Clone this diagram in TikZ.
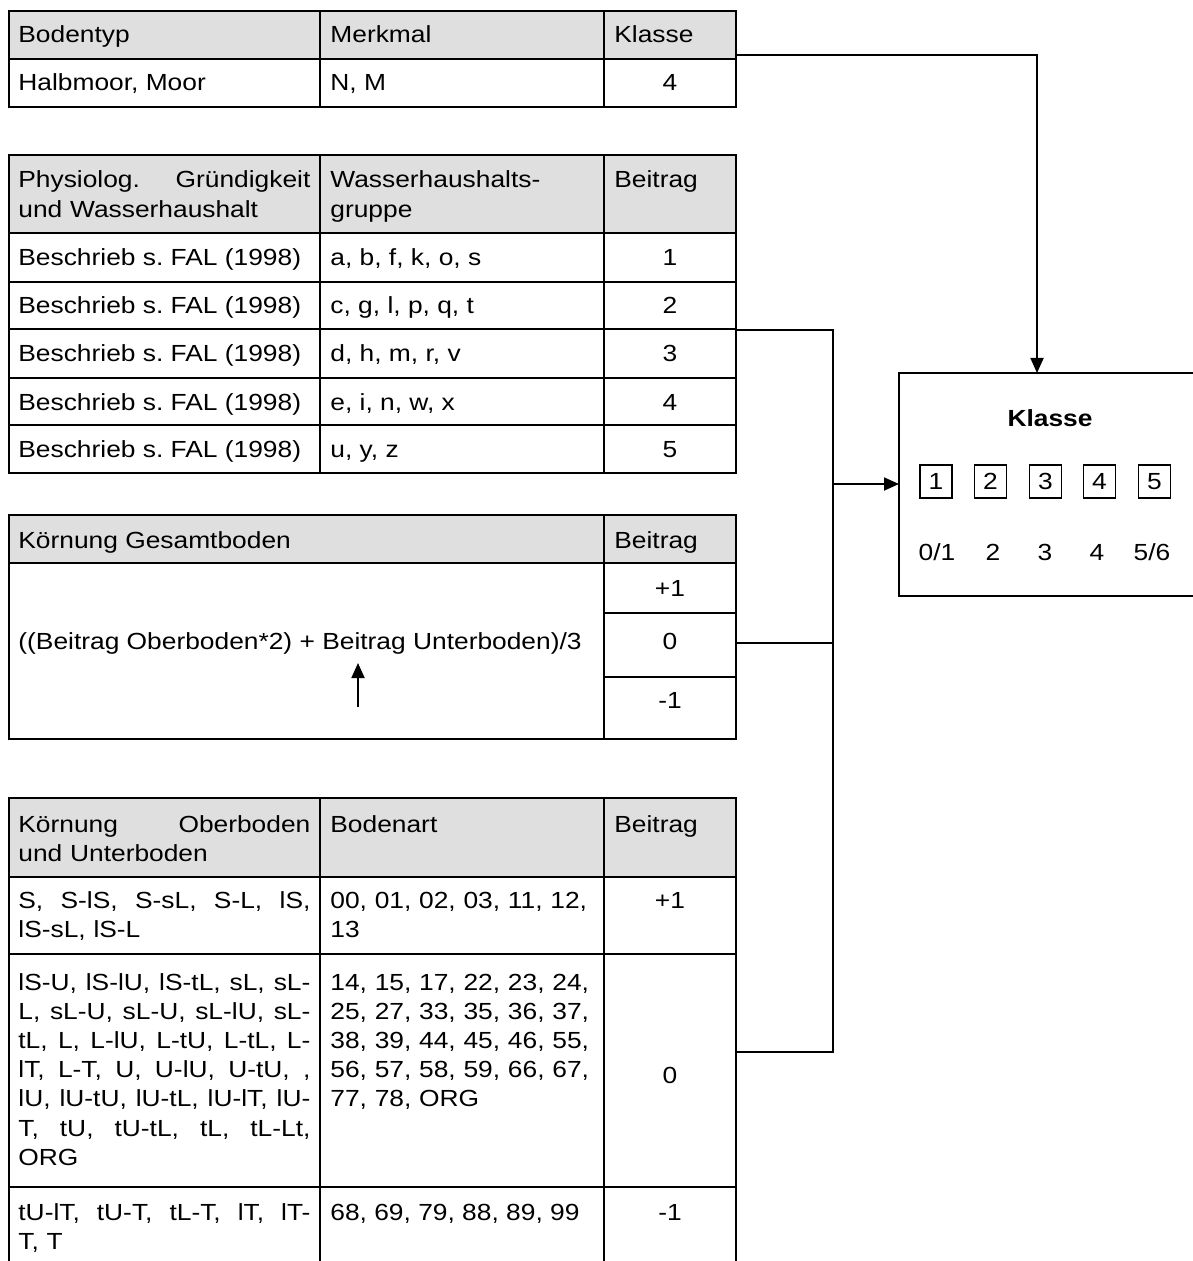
\documentclass[tikz,border=0pt]{standalone}
\usepackage{fontspec}
\setmainfont{Liberation Sans}[FakeStretch=1.13]
\usetikzlibrary{arrows.meta}
\definecolor{hdr}{HTML}{DFDFDF}
\newcommand\jline[1]{\leavevmode\hbox to 146pt{\spaceskip=0.278em plus 1fil\relax #1}}
\frenchspacing
\begin{document}
\begin{tikzpicture}[x=0.5pt,y=-0.5pt,
  grid/.style={line width=1.2pt},
  conn/.style={line width=0.9pt},
  tip/.style={-{Triangle[length=7.5pt,width=6.5pt]}},
  txt/.style={inner sep=0pt, font=\fontsize{11.66pt}{14.6pt}\selectfont\frenchspacing},
  lt/.style={txt, anchor=base west},
  ct/.style={txt, anchor=base},
  parA/.style={txt, anchor=base west, text width=146pt, align=left},
  parB/.style={txt, anchor=base west, text width=136pt, align=left},
  sbox/.style={txt, draw, line width=0.9pt, minimum width=16pt, minimum height=16.5pt, anchor=center},
]
\useasboundingbox (0,0) rectangle (1192,1261);

% ---------- Table 1 ----------
\fill[hdr] (9,11) rectangle (736,59);
\draw[grid] (9,11) rectangle (736,107) (9,59) -- (736,59)
  (320,11) -- (320,107) (604,11) -- (604,107);
\node[lt] (t1h1) at (18,43) {Bodentyp};
\node[lt] (t1h2) at (330,43) {Merkmal};
\node[lt] (t1h3) at (614,43) {Klasse};
\node[lt] (t1r1) at (18,91) {Halbmoor, Moor};
\node[lt] (t1r2) at (330,91) {N, M};
\node[ct] (t1r3) at (670,91) {4};
\coordinate (t1out) at (736,55);

% ---------- Table 2 ----------
\fill[hdr] (9,155) rectangle (736,233);
\draw[grid] (9,155) rectangle (736,473)
  (9,233) -- (736,233) (9,282) -- (736,282) (9,329) -- (736,329)
  (9,378) -- (736,378) (9,425) -- (736,425)
  (320,155) -- (320,473) (604,155) -- (604,473);
\node[parA] (t2h1) at (18,188) {\jline{Physiolog. Gründigkeit}\\und Wasserhaushalt};
\node[parB] (t2h2) at (330,188) {Wasserhaushalts-\\gruppe};
\node[lt] (t2h3) at (614,188) {Beitrag};
\node[lt] (t2a1) at (18,266) {Beschrieb s. FAL (1998)};
\node[lt] (t2a2) at (330,266) {a, b, f, k, o, s};
\node[ct] (t2a3) at (670,266) {1};
\node[lt] (t2b1) at (18,314) {Beschrieb s. FAL (1998)};
\node[lt] (t2b2) at (330,314) {c, g, l, p, q, t};
\node[ct] (t2b3) at (670,314) {2};
\node[lt] (t2c1) at (18,362) {Beschrieb s. FAL (1998)};
\node[lt] (t2c2) at (330,362) {d, h, m, r, v};
\node[ct] (t2c3) at (670,362) {3};
\node[lt] (t2d1) at (18,410) {Beschrieb s. FAL (1998)};
\node[lt] (t2d2) at (330,410) {e, i, n, w, x};
\node[ct] (t2d3) at (670,410) {4};
\node[lt] (t2e1) at (18,457) {Beschrieb s. FAL (1998)};
\node[lt] (t2e2) at (330,457) {u, y, z};
\node[ct] (t2e3) at (670,457) {5};
\coordinate (t2out) at (736,330);

% ---------- Table 3 ----------
\fill[hdr] (9,515) rectangle (736,563);
\draw[grid] (9,515) rectangle (736,739)
  (9,563) -- (736,563) (604,515) -- (604,739)
  (604,613) -- (736,613) (604,677) -- (736,677);
\node[lt] (t3h1) at (18,548) {Körnung Gesamtboden};
\node[lt] (t3h2) at (614,548) {Beitrag};
\node[lt] (t3f) at (18,649) {((Beitrag Oberboden*2) + Beitrag Unterboden)/3};
\node[ct] (t3p) at (670,596) {+1};
\node[ct] (t3z) at (670,649) {0};
\node[ct] (t3m) at (670,708) {-1};
\coordinate (t3arrS) at (358,707);
\coordinate (t3arrE) at (358,663);
\draw[conn,tip] (t3arrS) -- (t3arrE);
\coordinate (t3out) at (736,643);

% ---------- Table 4 ----------
\fill[hdr] (9,798) rectangle (736,877);
\draw[grid] (9,1262) -- (9,798) -- (736,798) -- (736,1262)
  (9,877) -- (736,877) (9,954) -- (736,954) (9,1187) -- (736,1187)
  (320,798) -- (320,1262) (604,798) -- (604,1262);
\node[parA] (t4h1) at (18,832) {\jline{Körnung Oberboden}\\und Unterboden};
\node[lt] (t4h2) at (330,832) {Bodenart};
\node[lt] (t4h3) at (614,832) {Beitrag};
\node[parA] (t4a1) at (18,908) {\jline{S, S-lS, S-sL, S-L, lS,}\\lS-sL, lS-L};
\node[parB] (t4a2) at (330,908) {00, 01, 02, 03, 11, 12,\\13};
\node[ct] (t4a3) at (670,908) {+1};
\node[parA] (t4b1) at (18,990) {\jline{lS-U, lS-lU, lS-tL, sL, sL-}\\
  \jline{L, sL-U, sL-U, sL-lU, sL-}\\
  \jline{tL, L, L-lU, L-tU, L-tL, L-}\\
  \jline{lT, L-T, U, U-lU, U-tU, ,}\\
  \jline{lU, lU-tU, lU-tL, lU-lT, lU-}\\
  \jline{T, tU, tU-tL, tL, tL-Lt,}\\
  ORG};
\node[parB] (t4b2) at (330,990) {14, 15, 17, 22, 23, 24,\\25, 27, 33, 35, 36, 37,\\38, 39, 44, 45, 46, 55,\\56, 57, 58, 59, 66, 67,\\77, 78, ORG};
\node[ct] (t4b3) at (670,1083) {0};
\node[parA] (t4c1) at (18,1220) {\jline{tU-lT, tU-T, tL-T, lT, lT-}\\T, T};
\node[lt] (t4c2) at (330,1220) {68, 69, 79, 88, 89, 99};
\node[ct] (t4c3) at (670,1220) {-1};
\coordinate (t4out) at (736,1052);

% ---------- Klasse box ----------
\node[inner sep=0pt, minimum width=146.5pt, minimum height=111pt, anchor=north west] (kbox) at (899,373) {};
\draw[line width=1pt] (kbox.north east) -- (kbox.north west) -- (kbox.south west) -- (kbox.south east);
\node[ct, font=\fontsize{11.66pt}{14.6pt}\selectfont\bfseries] (ktitle) at (1050,426) {Klasse};
\node[sbox] (b1) at (936,481.5) {1};
\node[sbox] (b2) at (990.5,481.5) {2};
\node[sbox] (b3) at (1045.5,481.5) {3};
\node[sbox] (b4) at (1099.5,481.5) {4};
\node[sbox] (b5) at (1154.5,481.5) {5};
\node[ct] (l1) at (937,560) {0/1};
\node[ct] (l2) at (993,560) {2};
\node[ct] (l3) at (1045,560) {3};
\node[ct] (l4) at (1097,560) {4};
\node[ct] (l5) at (1152,560) {5/6};

% ---------- connectors ----------
\coordinate (ktop) at (1037,373);
\coordinate (bus) at (833,484);
\draw[conn,tip] (t1out) -| (ktop);
\draw[conn] (t2out) -| (833,1052) -- (t4out);
\draw[conn] (t3out) -- (833,643);
\draw[conn,tip] (bus) -- (kbox.west |- bus);
\end{tikzpicture}
\end{document}
